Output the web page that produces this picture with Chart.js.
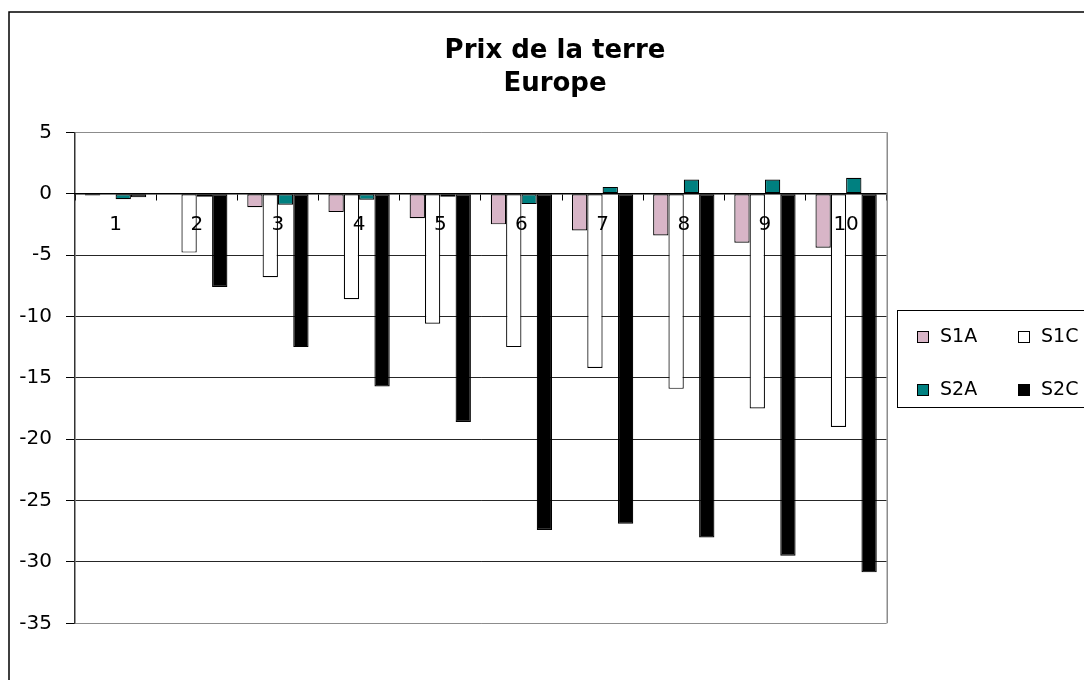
<!DOCTYPE html>
<html>
<head>
<meta charset="utf-8">
<script src="https://cdn.jsdelivr.net/npm/chart.js@4.4.1/dist/chart.umd.min.js"></script>
<style>
  html, body { margin: 0; padding: 0; background: #fff; overflow: hidden; }
  canvas { display: block; }
</style>
</head>
<body>
<canvas id="chart" width="1084" height="680"></canvas>
<script>
// Land price change by period, Europe (four scenarios)
const categories = ['1', '2', '3', '4', '5', '6', '7', '8', '9', '10'];
const seriesNames = ['S1A', 'S1C', 'S2A', 'S2C'];
const s1a = [-0.15, 0, -1.1, -1.5, -2.0, -2.5, -3.0, -3.4, -4.0, -4.4];
const s1c = [0, -4.8, -6.8, -8.6, -10.6, -12.5, -14.2, -15.9, -17.5, -19.0];
const s2a = [-0.45, -0.25, -0.9, -0.5, -0.25, -0.85, 0.55, 1.15, 1.15, 1.3];
const s2c = [-0.3, -7.6, -12.5, -15.7, -18.6, -27.4, -26.9, -28.0, -29.5, -30.85];
const titleLines = ['Prix de la terre', 'Europe'];
const yMin = -35, yMax = 5, yStep = 5;

const colors = ['#D8B5C7', '#FFFFFF', '#008080', '#000000'];
const values = [s1a, s1c, s2a, s2c];

const FONT = '"DejaVu Sans", "Liberation Sans", Arial, sans-serif';

const decor = {
  id: 'decor',
  beforeDraw(chart) {
    const ctx = chart.ctx;
    ctx.save();
    ctx.fillStyle = '#fff';
    ctx.fillRect(0, 0, chart.width, chart.height);
    ctx.restore();
  },
  afterDraw(chart) {
    const { ctx, chartArea: a } = chart;
    ctx.save();
    // outer chart frame
    ctx.strokeStyle = '#000';
    ctx.lineWidth = 1.5;
    ctx.strokeRect(9, 12, 1300, 1000);
    // plot area right edge
    ctx.strokeStyle = '#8c8c8c';
    ctx.lineWidth = 1.5;
    ctx.beginPath();
    ctx.moveTo(Math.round(a.right) + 0.25, a.top);
    ctx.lineTo(Math.round(a.right) + 0.25, a.bottom);
    ctx.stroke();
    // title
    ctx.fillStyle = '#000';
    ctx.font = 'bold 26px ' + FONT;
    ctx.textAlign = 'center';
    ctx.textBaseline = 'middle';
    titleLines.forEach((t, i) => ctx.fillText(t, 555, 51 + i * 33.5));
    // legend
    ctx.strokeStyle = '#000';
    ctx.lineWidth = 1;
    ctx.strokeRect(897.5, 310.5, 300, 97);
    const colX = [917, 1018];
    const rowY = [337, 390];
    ctx.font = '19px ' + FONT;
    ctx.textAlign = 'left';
    chart.data.datasets.forEach((ds, i) => {
      const x = colX[i % 2];
      const y = rowY[Math.floor(i / 2)];
      ctx.fillStyle = ds.backgroundColor;
      ctx.fillRect(x + 0.5, y - 5.5, 11, 11);
      ctx.strokeStyle = '#000';
      ctx.strokeRect(x + 0.5, y - 5.5, 11, 11);
      ctx.fillStyle = '#000';
      ctx.fillText(ds.label, x + 23, y);
    });
    ctx.restore();
  }
};

new Chart(document.getElementById('chart'), {
  type: 'bar',
  data: {
    labels: categories,
    datasets: seriesNames.map((name, i) => ({
      label: name,
      data: values[i],
      backgroundColor: colors[i],
      borderColor: '#000',
      borderWidth: 1.2,
      borderSkipped: false,
      categoryPercentage: 0.755,
      barPercentage: 1.0
    }))
  },
  options: {
    responsive: false,
    animation: false,
    devicePixelRatio: 1,
    layout: { padding: { top: 132.3, right: 197.3, bottom: 56.7, left: 0 } },
    plugins: {
      legend: { display: false },
      title: { display: false },
      tooltip: { enabled: false }
    },
    scales: {
      x: {
        position: { y: 0 },
        offset: true,
        grid: {
          display: true,
          drawOnChartArea: false,
          drawTicks: true,
          tickLength: 6,
          color: '#000',
          offset: true
        },
        border: { color: '#000', width: 1.5, z: 1 },
        ticks: {
          z: 2,
          color: '#000',
          font: { family: FONT, size: 20 },
          padding: 13,
          maxRotation: 0,
          autoSkip: false
        }
      },
      y: {
        min: yMin,
        max: yMax,
        ticks: {
          stepSize: yStep,
          color: '#000',
          font: { family: FONT, size: 20 },
          padding: 14
        },
        grid: {
          color: (c) => (c.tick && (c.tick.value === yMax || c.tick.value === yMin)) ? '#8c8c8c' : '#262626',
          lineWidth: 1,
          tickColor: '#000',
          tickLength: 9,
          drawTicks: true
        },
        border: { color: '#333', width: 1.5 },
        afterFit(scale) { scale.width = 75; }
      }
    }
  },
  plugins: [decor]
});
</script>
</body>
</html>
